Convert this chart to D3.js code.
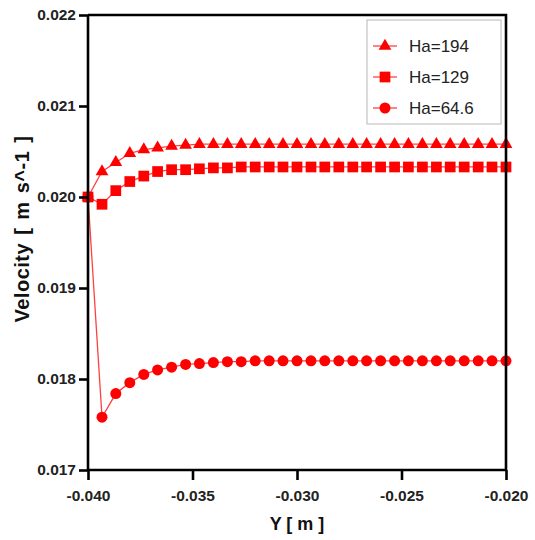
<!DOCTYPE html>
<html>
<head>
<meta charset="utf-8">
<script src="https://cdn.jsdelivr.net/npm/d3@7/dist/d3.min.js"></script>
<style>
  html, body { margin: 0; padding: 0; background: #fff; }
  svg { display: block; }
</style>
</head>
<body>
<svg id="chart" width="535" height="540"></svg>
<script>
// ---------------- data ----------------
const yPosition = [-0.04000, -0.03933, -0.03867, -0.03800, -0.03733, -0.03667, -0.03600, -0.03533,
  -0.03467, -0.03400, -0.03333, -0.03267, -0.03200, -0.03133, -0.03067, -0.03000, -0.02933,
  -0.02867, -0.02800, -0.02733, -0.02667, -0.02600, -0.02533, -0.02467, -0.02400, -0.02333,
  -0.02267, -0.02200, -0.02133, -0.02067, -0.02000];

const ha194 = [0.02000, 0.02028, 0.02038, 0.02048, 0.02052, 0.02054, 0.02056, 0.02057, 0.02058,
  0.02058, 0.02058, 0.02058, 0.02058, 0.02058, 0.02058, 0.02058, 0.02058, 0.02058, 0.02058,
  0.02058, 0.02058, 0.02058, 0.02058, 0.02058, 0.02058, 0.02058, 0.02058, 0.02058, 0.02058,
  0.02058, 0.02058];

const ha129 = [0.02000, 0.01992, 0.02007, 0.02017, 0.02023, 0.02028, 0.02030, 0.02030, 0.02031,
  0.02032, 0.02032, 0.02033, 0.02033, 0.02033, 0.02033, 0.02033, 0.02033, 0.02033, 0.02033,
  0.02033, 0.02033, 0.02033, 0.02033, 0.02033, 0.02033, 0.02033, 0.02033, 0.02033, 0.02033,
  0.02033, 0.02033];

const ha646 = [0.02000, 0.01758, 0.01784, 0.01796, 0.01805, 0.01810, 0.01813, 0.01816, 0.01817,
  0.01818, 0.01819, 0.01819, 0.01820, 0.01820, 0.01820, 0.01820, 0.01820, 0.01820, 0.01820,
  0.01820, 0.01820, 0.01820, 0.01820, 0.01820, 0.01820, 0.01820, 0.01820, 0.01820, 0.01820,
  0.01820, 0.01820];

const seriesNames = ["Ha=194", "Ha=129", "Ha=64.6"];
const xTicks = [-0.040, -0.035, -0.030, -0.025, -0.020];
const yTicks = [0.017, 0.018, 0.019, 0.020, 0.021, 0.022];
const xTitle = "Y [ m ]";
const yTitle = "Velocity [ m s^-1 ]";

// ---------------- layout ----------------
const svg = d3.select("#chart");
const mLeft = 88, mRight = 506, mTop = 15, mBottom = 470;
const x = d3.scaleLinear().domain([-0.040, -0.020]).range([mLeft, mRight]);
const y = d3.scaleLinear().domain([0.017, 0.022]).range([mBottom, mTop]);

const red = "#ff0000";
const series = [
  { name: seriesNames[0], values: ha194, shape: d3.symbolTriangle, size: 70 },
  { name: seriesNames[2], values: ha646, shape: d3.symbolCircle, size: 95 },
  { name: seriesNames[1], values: ha129, shape: d3.symbolSquare, size: 115 }
];

const line = d3.line().x((d, i) => x(yPosition[i])).y(d => y(d));

const plot = svg.append("g");
series.forEach(s => {
  plot.append("path")
    .datum(s.values)
    .attr("fill", "none")
    .attr("stroke", red)
    .attr("stroke-opacity", 0.75)
    .attr("stroke-width", 1.3)
    .attr("d", line);
});
series.forEach(s => {
  plot.selectAll(null)
    .data(s.values)
    .enter().append("path")
    .attr("d", d3.symbol().type(s.shape).size(s.size))
    .attr("transform", (d, i) => `translate(${x(yPosition[i])},${y(d)})`)
    .attr("fill", red);
});

// ---------------- axes ----------------
const axisColor = "#000";
const fmt = d => d.toFixed(3).replace("\u2212", "-");

const gx = svg.append("g")
  .attr("transform", `translate(0,${mBottom})`)
  .call(d3.axisBottom(x).tickValues(xTicks).tickSize(10).tickPadding(10).tickFormat(fmt));
const gy = svg.append("g")
  .attr("transform", `translate(${mLeft},0)`)
  .call(d3.axisLeft(y).tickValues(yTicks).tickSize(9).tickPadding(3).tickFormat(fmt));

[gx, gy].forEach(g => {
  g.select(".domain").attr("stroke", axisColor).attr("stroke-width", 2.6);
  g.selectAll(".tick line").attr("stroke", axisColor).attr("stroke-width", 2.6);
  g.selectAll(".tick text")
    .attr("fill", "#222")
    .style("font-family", "Liberation Sans, Arial, sans-serif")
    .style("font-weight", "bold")
    .style("font-size", "15.5px");
});
gx.select(".domain").attr("d", `M${mLeft},0H${mRight}`);
gy.select(".domain").attr("d", `M0,${mTop}V${mBottom + 1}`);

// frame top/right
svg.append("path")
  .attr("d", `M${mLeft},${mTop}H${mRight}V${mBottom}`)
  .attr("fill", "none")
  .attr("stroke", axisColor)
  .attr("stroke-width", 2.6);

// titles
svg.append("text")
  .attr("x", 297).attr("y", 530)
  .attr("text-anchor", "middle")
  .style("font-family", "Liberation Sans, Arial, sans-serif")
  .style("font-weight", "bold")
  .style("font-size", "18px")
  .attr("fill", "#111")
  .text(xTitle);

svg.append("text")
  .attr("transform", "translate(29,229) rotate(-90)")
  .attr("text-anchor", "middle")
  .style("font-family", "Liberation Sans, Arial, sans-serif")
  .style("font-weight", "bold")
  .style("font-size", "20px")
  .style("letter-spacing", "0.5px")
  .style("word-spacing", "2px")
  .attr("fill", "#111")
  .text(yTitle);

// ---------------- legend ----------------
const legend = svg.append("g");
legend.append("rect")
  .attr("x", 367).attr("y", 20).attr("width", 134).attr("height", 104)
  .attr("fill", "#fff").attr("stroke", "#b8b8b8").attr("stroke-width", 1);

const legendItems = [
  { name: seriesNames[0], shape: d3.symbolTriangle, size: 70 },
  { name: seriesNames[1], shape: d3.symbolSquare, size: 115 },
  { name: seriesNames[2], shape: d3.symbolCircle, size: 95 }
];
const legendY = d3.scalePoint().domain(legendItems.map(d => d.name)).range([46, 108]);
legendItems.forEach(it => {
  const cy = legendY(it.name);
  legend.append("line")
    .attr("x1", 373).attr("x2", 397).attr("y1", cy).attr("y2", cy)
    .attr("stroke", red).attr("stroke-opacity", 0.75).attr("stroke-width", 1.3);
  legend.append("path")
    .attr("d", d3.symbol().type(it.shape).size(it.size))
    .attr("transform", `translate(385,${cy})`)
    .attr("fill", red);
  legend.append("text")
    .attr("x", 409).attr("y", cy + 6)
    .style("font-family", "Liberation Sans, Arial, sans-serif")
    .style("font-size", "17px")
    .attr("fill", "#222")
    .text(it.name);
});
</script>
</body>
</html>
